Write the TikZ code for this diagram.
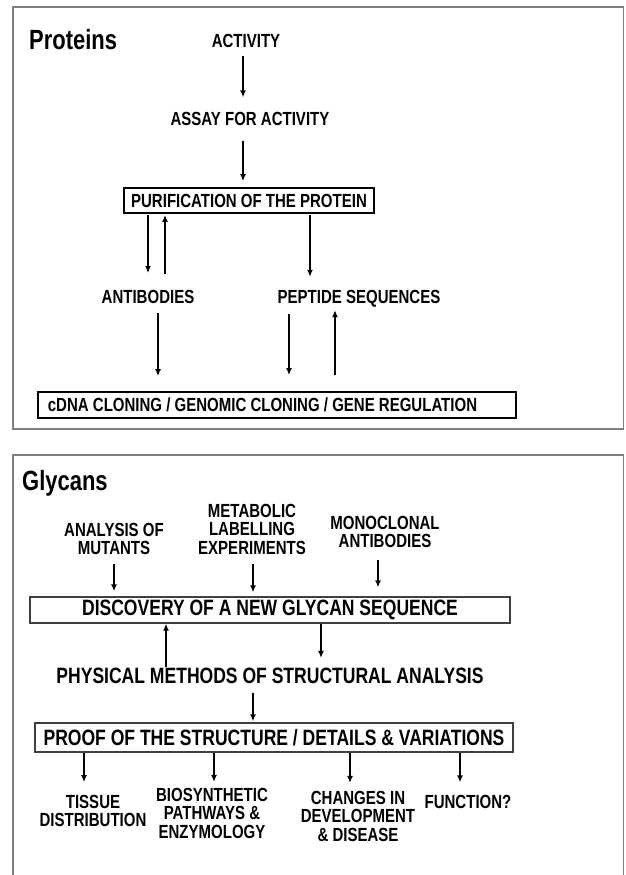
\documentclass[tikz,border=0pt]{standalone}
\usepackage{fontspec}
\setmainfont{Liberation Sans}[FakeStretch=0.79]
\usetikzlibrary{arrows.meta,positioning}

\begin{document}
\begin{tikzpicture}[x=1pt, y=-1pt,
	panel/.style = {draw=black!50, line width=1.8pt},
	ttl/.style   = {anchor=west, inner sep=0pt, font=\fontsize{27.8}{30}\selectfont\bfseries},
	lbl/.style   = {inner sep=0pt, align=center, font=\fontsize{19}{18.5}\selectfont\bfseries},
	biglbl/.style = {lbl, font=\fontsize{22.2}{24}\selectfont\bfseries},
	pbox/.style  = {lbl, draw, line width=1.8pt, inner xsep=7pt, minimum height=25pt},
	gbox/.style  = {biglbl, draw=black!75, line width=1.3pt, minimum height=26pt},
	arr/.style   = {->, line width=1.8pt},
	>={Latex[length=7pt,width=6pt]}]
	
	\useasboundingbox (0,0) rectangle (625,875);
	
	% Frames of the two panels
	\draw[panel] (13,7) rectangle (623.5,429);
	\draw[panel] (13,880) -- (13,455) -- (623.5,455) -- (623.5,880);
	
	% Proteins, top panel
	\node[ttl] (prot) at (29,40) {Proteins};
	\node[lbl] (act) at (246,41) {ACTIVITY};
	\node[lbl] (assay) at (250,119) {ASSAY FOR ACTIVITY};
	\node[pbox] (pur) at (249,200.5) {PURIFICATION OF THE PROTEIN};
	\node[lbl] (anti) at (148,297) {ANTIBODIES};
	\node[lbl] (pep) at (359,298.5) {PEPTIDE SEQUENCES};
	\node[pbox, anchor=west, text width=458pt, align=flush left, inner xsep=10pt, minimum height=26pt] (cdna) at (37,405)
		{cDNA CLONING / GENOMIC CLONING / GENE REGULATION};
	
	\draw[arr, shorten <=7.7pt, shorten >=14.7pt] (act.south -| 243,0) -- (assay.north -| 243,0);
	\draw[arr, shorten <=14.7pt, shorten >=6pt] (assay.south -| 243,0) -- (pur.north -| 243,0);
	\draw[arr, shorten <=1pt, shorten >=17pt] (pur.south -| 148,0) -- (anti.north -| 148,0);
	\draw[arr, shorten <=16pt, shorten >=1pt] (anti.north -| 165,0) -- (pur.south -| 165,0);
	\draw[arr, shorten <=1pt, shorten >=13pt] (pur.south -| 310,0) -- (pep.north -| 310,0);
	\draw[arr, shorten <=8.7pt, shorten >=15pt] (anti.south -| 158,0) -- (cdna.north -| 158,0);
	\draw[arr, shorten <=7pt, shorten >=16pt] (pep.south -| 289,0) -- (cdna.north -| 289,0);
	\draw[arr, shorten <=16pt, shorten >=3pt] (cdna.north -| 335,0) -- (pep.south -| 335,0);
	
	% Glycans, bottom panel
	\node[ttl] (glyc) at (22,483) {Glycans};
	\node[lbl] (mut) at (114,539) {ANALYSIS OF\\MUTANTS};
	\node[lbl] (met) at (252,529) {METABOLIC\\LABELLING\\EXPERIMENTS};
	\node[lbl] (mono) at (385,532) {MONOCLONAL\\ANTIBODIES};
	\node[gbox, minimum width=480pt] (disc) at (270,610) {DISCOVERY OF A NEW GLYCAN SEQUENCE};
	\node[biglbl] (phys) at (270,676) {PHYSICAL METHODS OF STRUCTURAL ANALYSIS};
	\node[gbox, minimum width=478pt, minimum height=29pt] (proof) at (274,737.5)
		{PROOF OF THE STRUCTURE / DETAILS \& VARIATIONS};
	\node[lbl] (tis) at (93,811) {TISSUE\\DISTRIBUTION};
	\node[lbl] (bio) at (212,813) {BIOSYNTHETIC\\PATHWAYS \&\\ENZYMOLOGY};
	\node[lbl] (chg) at (358,816) {CHANGES IN\\DEVELOPMENT\\\& DISEASE};
	\node[lbl] (func) at (468,802) {FUNCTION?};
	
	\draw[arr, shorten <=8.7pt, shorten >=5pt] (mut.south -| 114,0) -- (disc.north -| 114,0);
	\draw[arr, shorten <=9.7pt, shorten >=4pt] (met.south -| 253,0) -- (disc.north -| 253,0);
	\draw[arr, shorten <=11.7pt, shorten >=9pt] (mono.south -| 378,0) -- (disc.north -| 378,0);
	\draw[arr, shorten <=1pt] (phys.north -| 166,0) -- (disc.south -| 166,0);
	\draw[arr, shorten >=10pt] (disc.south -| 321,0) -- (phys.north -| 321,0);
	\draw[arr, shorten <=9pt, shorten >=1pt] (phys.south -| 253,0) -- (proof.north -| 253,0);
	
	% Lines from the proof box to its four outcomes
	\draw[arr, shorten >=12.7pt] (proof.south -| 84,0) -- (tis.north -| 84,0);
	\draw[arr, shorten >=5.7pt] (proof.south -| 214,0) -- (bio.north -| 214,0);
	\draw[arr, shorten >=7.7pt] (proof.south -| 350,0) -- (chg.north -| 350,0);
	\draw[arr, shorten >=12.7pt] (proof.south -| 460,0) -- (func.north -| 460,0);
	
\end{tikzpicture}
\end{document}
